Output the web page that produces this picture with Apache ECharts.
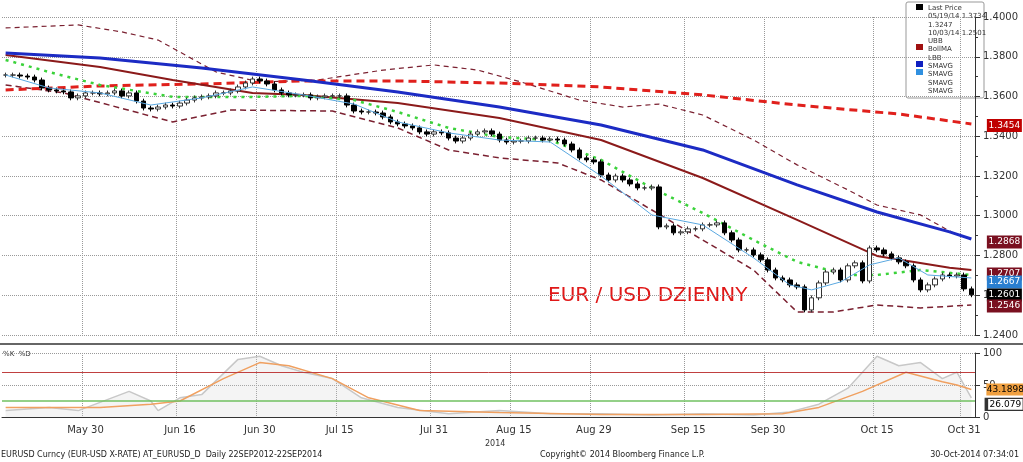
<!DOCTYPE html><html><head><meta charset="utf-8"><script src="https://cdn.jsdelivr.net/npm/echarts@6/dist/echarts.min.js"></script>
<style>html,body{margin:0;background:#fff}#c{width:1023px;height:462px}</style></head><body><div id="c"></div><script>
const closes=[1.3708,1.3708,1.3703,1.3698,1.3683,1.3643,1.3633,1.3628,1.3623,1.3593,1.3603,1.3618,1.3618,1.3613,1.3618,1.3628,1.3603,1.3618,1.3577,1.3542,1.3537,1.3547,1.3557,1.3552,1.3567,1.3582,1.3593,1.3598,1.3603,1.3618,1.3618,1.3628,1.3648,1.3668,1.3688,1.3678,1.3663,1.3633,1.3618,1.3608,1.3608,1.3608,1.3593,1.3598,1.3603,1.3603,1.3603,1.3557,1.3527,1.3522,1.3522,1.3517,1.3497,1.3472,1.3462,1.3452,1.3442,1.3422,1.3411,1.3422,1.3417,1.3391,1.3376,1.3391,1.3411,1.3422,1.3427,1.3411,1.3381,1.3371,1.3376,1.3376,1.3391,1.3391,1.3381,1.3386,1.3381,1.3361,1.3331,1.3291,1.3281,1.3271,1.3205,1.3180,1.3200,1.3180,1.3160,1.3140,1.3140,1.3145,1.2944,1.2949,1.2914,1.2919,1.2934,1.2934,1.2954,1.2954,1.2964,1.2914,1.2878,1.2828,1.2828,1.2803,1.2778,1.2727,1.2687,1.2677,1.2652,1.2642,1.2526,1.2587,1.2662,1.2717,1.2727,1.2677,1.2748,1.2763,1.2672,1.2838,1.2828,1.2808,1.2788,1.2768,1.2748,1.2677,1.2627,1.2652,1.2682,1.2702,1.2697,1.2702,1.2632,1.2602];
const tickLabels={11:'May 30',24:'Jun 16',35:'Jun 30',46:'Jul 15',59:'Jul 31',70:'Aug 15',81:'Aug 29',94:'Sep 15',105:'Sep 30',120:'Oct 15',132:'Oct 31'};
const smaSlow=[[0,1.3819],[13,1.3794],[27,1.3743],[41,1.3683],[54,1.3623],[68,1.3547],[82,1.3457],[96,1.3331],[109,1.3155],[120,1.3019],[130,1.2919],[133,1.2883]];
const smaLong=[[0,1.3633],[13,1.3653],[27,1.3663],[41,1.3678],[54,1.3678],[68,1.3668],[82,1.3648],[96,1.3608],[109,1.3557],[123,1.3512],[133,1.3462]];
const bollMA=[[0,1.3809],[13,1.3748],[23,1.3683],[34,1.3618],[41,1.3608],[54,1.3567],[68,1.3492],[82,1.3381],[96,1.3190],[109,1.2979],[120,1.2798],[130,1.2738],[133,1.2727]];
const smaMid=[[0,1.3784],[6,1.3723],[13,1.3658],[23,1.3598],[34,1.3598],[41,1.3603],[48,1.3582],[54,1.3522],[61,1.3442],[68,1.3396],[75,1.3381],[82,1.3281],[89,1.3140],[96,1.3014],[103,1.2878],[109,1.2768],[116,1.2702],[120,1.2702],[126,1.2727],[133,1.2702]];
const smaFast=[[0,1.3708],[6,1.3643],[13,1.3618],[20,1.3557],[27,1.3593],[34,1.3648],[41,1.3608],[48,1.3562],[54,1.3472],[61,1.3417],[68,1.3381],[75,1.3371],[82,1.3200],[89,1.3004],[96,1.2954],[103,1.2788],[108,1.2652],[111,1.2627],[115,1.2667],[119,1.2753],[123,1.2788],[127,1.2702],[133,1.2687]];
const upperBand=[[0,1.3945],[10,1.3960],[16,1.3925],[21,1.3884],[29,1.3723],[35,1.3673],[43,1.3683],[52,1.3733],[59,1.3759],[65,1.3733],[71,1.3673],[79,1.3582],[85,1.3547],[90,1.3562],[96,1.3507],[103,1.3381],[109,1.3256],[116,1.3130],[120,1.3054],[126,1.3004],[131,1.2903]];
const lowerBand=[[0,1.3658],[8,1.3618],[23,1.3472],[31,1.3532],[45,1.3527],[54,1.3442],[61,1.3331],[68,1.3291],[76,1.3266],[82,1.3180],[89,1.3029],[96,1.2878],[103,1.2727],[109,1.2516],[114,1.2516],[120,1.2551],[126,1.2536],[133,1.2551]];
const stochK=[[0,10],[6,15],[10,10],[17,40],[20,25],[21,10],[24,30],[27,35],[32,90],[35,95],[38,80],[41,70],[45,60],[49,30],[54,15],[61,5],[68,10],[75,5],[82,5],[89,3],[96,5],[103,3],[108,8],[112,20],[116,45],[120,95],[123,80],[126,85],[129,60],[131,70],[133,30]];
const stochD=[[0,15],[13,15],[20,20],[24,25],[30,60],[35,85],[39,80],[45,60],[50,30],[57,10],[68,7],[82,4],[96,4],[107,5],[112,15],[118,40],[124,70],[129,55],[131,50],[133,43]];
const endLabels=[[1.3454,'#c00000'],[1.2868,'#7a1020'],[1.2707,'#7a1020'],[1.2667,'#2a7fd0'],[1.2601,'#000'],[1.2546,'#7a1020']];
const cats=closes.map((c,i)=>String(i));
const ohlc=closes.map((c,i)=>{const o=i?closes[i-1]:c;return [o,c,Math.min(o,c)-0.0012,Math.max(o,c)+0.0012];});
const ch=echarts.init(document.getElementById('c'));
const gl={show:true,lineStyle:{type:'dotted',color:'#999'}};
const ln=(d,color,w,type,z)=>({type:'line',data:d,symbol:'none',xAxisIndex:0,yAxisIndex:0,lineStyle:{color,width:w,type},z:z||3,silent:true});
ch.setOption({animation:false,
grid:[{left:2,right:48,top:17,height:318},{left:2,right:48,top:353,height:64}],
xAxis:[{type:'category',data:cats,gridIndex:0,axisLabel:{show:false},axisTick:{show:false},axisLine:{show:false},splitLine:{show:true,interval:(i)=>tickLabels[i]!==undefined,lineStyle:{type:'dotted',color:'#999'}}},
{type:'category',data:cats,gridIndex:1,axisLine:{lineStyle:{color:'#333'}},axisTick:{interval:(i)=>tickLabels[i]!==undefined,alignWithLabel:true},axisLabel:{interval:(i)=>tickLabels[i]!==undefined,formatter:(v,i)=>tickLabels[i]||'',fontSize:10,color:'#333',fontFamily:'DejaVu Sans'},splitLine:{show:true,interval:(i)=>tickLabels[i]!==undefined,lineStyle:{type:'dotted',color:'#999'}}}],
yAxis:[{type:'value',position:'right',gridIndex:0,min:1.24,max:1.40,interval:0.02,axisLine:{show:true,lineStyle:{color:'#333'}},axisTick:{show:true},minorTick:{show:true,splitNumber:2},axisLabel:{formatter:v=>v.toFixed(4),fontSize:10,color:'#333',fontFamily:'DejaVu Sans'},splitLine:gl},
{type:'value',position:'right',gridIndex:1,min:0,max:100,interval:50,axisLine:{show:true,lineStyle:{color:'#333'}},axisTick:{show:true},axisLabel:{fontSize:10,color:'#333',fontFamily:'DejaVu Sans'},splitLine:gl}],
series:[
{type:'candlestick',data:ohlc,barWidth:5,itemStyle:{color:'#fff',color0:'#000',borderColor:'#333',borderColor0:'#000',borderWidth:1},z:5,
 markPoint:{symbol:'rect',symbolSize:[35,13],symbolOffset:[33,0],label:{color:'#fff',fontSize:9,fontFamily:'DejaVu Sans'},
 data:endLabels.map(e=>({coord:[133,e[0]],value:e[0].toFixed(4),itemStyle:{color:e[1]}}))}},
ln(upperBand,'#7a2030',1.2,[5,4]),ln(lowerBand,'#7a2030',1.5,[6,4]),
ln(smaLong,'#e0201c',3,[8,5]),ln(bollMA,'#8b1a1a',2,'solid'),ln(smaSlow,'#1c2bc4',3,'solid'),
ln(smaMid,'#3ad23a',2.5,[3,5]),ln(smaFast,'#5aa8e0',1,'solid',6),
{type:'line',xAxisIndex:1,yAxisIndex:1,data:stochK,symbol:'none',lineStyle:{color:'#c8c8c8',width:1.5},areaStyle:{color:'rgba(210,210,210,0.35)'}},
{type:'line',xAxisIndex:1,yAxisIndex:1,data:stochD,symbol:'none',lineStyle:{color:'#f0a060',width:1.5},
 markLine:{symbol:'none',silent:true,label:{show:false},data:[{yAxis:70,lineStyle:{color:'#c04040',type:'solid',width:1}},{yAxis:25,lineStyle:{color:'#70c060',type:'solid',width:1.5}}]},
 markPoint:{symbol:'rect',symbolSize:[38,12],symbolOffset:[34,0],label:{fontSize:9,fontFamily:'DejaVu Sans'},data:[{coord:[133,43],value:'43.1898',itemStyle:{color:'#f0a040'},label:{color:'#000'}},{coord:[133,26],value:'26.079',symbolOffset:[34,4],itemStyle:{color:'#fff',borderColor:'#333'},label:{color:'#000'}}]}}
],
graphic:[
{type:'rect',shape:{x:0,y:343,width:1023,height:2},style:{fill:'#666'}},
{type:'text',left:548,top:286,style:{text:'EUR / USD DZIENNY',fill:'#e01818',font:'20px "DejaVu Sans"'}},
{type:'rect',shape:{x:906,y:2,width:78,height:96,r:2},style:{fill:'#fff',stroke:'#999'}},
{type:'text',left:914,top:4,style:{text:'Last Price\n05/19/14 1.3734\n1.3247\n10/03/14 1.2501\nUBB\nBollMA\nLBB\nSMAVG\nSMAVG\nSMAVG\nSMAVG',fill:'#333',font:'7px "DejaVu Sans"',lineHeight:8.3,padding:[0,0,0,14]}},
{type:'rect',shape:{x:916,y:44,width:7,height:6},style:{fill:'#a01010'}},
{type:'rect',shape:{x:916,y:61,width:7,height:6},style:{fill:'#1020c0'}},
{type:'rect',shape:{x:916,y:69,width:7,height:6},style:{fill:'#3090e0'}},
{type:'rect',shape:{x:916,y:4,width:7,height:6},style:{fill:'#000'}},
{type:'text',left:3,top:351,style:{text:'%K  %D',fill:'#333',font:'7px "DejaVu Sans"'}},
{type:'text',left:485,top:440,style:{text:'2014',fill:'#333',font:'8px "DejaVu Sans"'}},
{type:'text',left:1,top:451,style:{text:'EURUSD Curncy (EUR-USD X-RATE) AT_EURUSD_D  Daily 22SEP2012-22SEP2014',fill:'#222',font:'8px "DejaVu Sans"'}},
{type:'text',left:540,top:451,style:{text:'Copyright© 2014 Bloomberg Finance L.P.',fill:'#222',font:'8px "DejaVu Sans"'}},
{type:'text',right:4,top:451,style:{text:'30-Oct-2014 07:34:01',fill:'#222',font:'8px "DejaVu Sans"'}}
]});
</script></body></html>
